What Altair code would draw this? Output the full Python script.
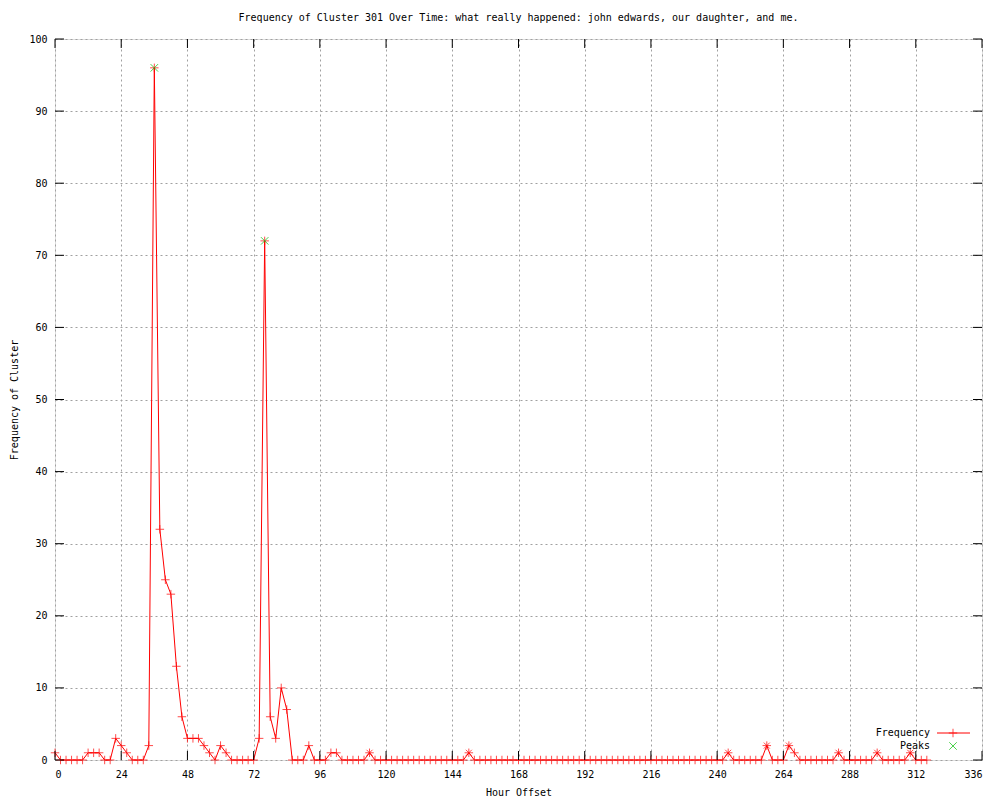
import altair as alt
import pandas as pd

hours = list(range(0, 318, 2))
freq = [
    1, 0, 0, 0, 0, 0, 1, 1, 1, 0,      # 0-18
    0, 3, 2, 1, 0, 0, 0, 2, 96, 32,    # 20-38
    25, 23, 13, 6, 3, 3, 3, 2, 1, 0,   # 40-58
    2, 1, 0, 0, 0, 0, 0, 3, 72, 6,     # 60-78
    3, 10, 7, 0, 0, 0, 2, 0, 0, 0,     # 80-98
    1, 1, 0, 0, 0, 0, 0, 1, 0, 0,      # 100-118
    0, 0, 0, 0, 0, 0, 0, 0, 0, 0,      # 120-138
    0, 0, 0, 0, 0, 1, 0, 0, 0, 0,      # 140-158
    0, 0, 0, 0, 0, 0, 0, 0, 0, 0,      # 160-178
    0, 0, 0, 0, 0, 0, 0, 0, 0, 0,      # 180-198
    0, 0, 0, 0, 0, 0, 0, 0, 0, 0,      # 200-218
    0, 0, 0, 0, 0, 0, 0, 0, 0, 0,      # 220-238
    0, 0, 1, 0, 0, 0, 0, 0, 0, 2,      # 240-258
    0, 0, 0, 2, 1, 0, 0, 0, 0, 0,      # 260-278
    0, 0, 1, 0, 0, 0, 0, 0, 0, 1,      # 280-298
    0, 0, 0, 0, 0, 1, 0, 0, 0,         # 300-316
]

star_hours = [114, 150, 244, 258, 266, 284, 298, 310]
peak_hours = [36, 76]
peak_values = [96, 72]

x_ticks = list(range(0, 337, 24))
y_ticks = list(range(0, 101, 10))

TITLE = "Frequency of Cluster 301 Over Time: what really happened: john edwards, our daughter, and me."
FONT = "DejaVu Sans Mono"
FS = 10
W, H = 927, 721

df = pd.DataFrame({"hour": hours, "freq": freq})
stars = df[df["hour"].isin(star_hours)]
peaks = pd.DataFrame({"hour": peak_hours, "freq": peak_values})
xt = pd.DataFrame({"t": x_ticks})
yt = pd.DataFrame({"t": y_ticks})
one = pd.DataFrame({"a": [0]})

xs = alt.Scale(domain=[0, 336], nice=False, zero=False)
ys = alt.Scale(domain=[0, 100], nice=False)

PLUS = "M-1,0L1,0M0,-1L0,1"
XSYM = "M-1,-1L1,1M-1,1L1,-1"

base = alt.Chart(df)

line = base.mark_line(color="#ff0000", strokeWidth=1).encode(
    x=alt.X("hour:Q", scale=xs, title="Hour Offset",
            axis=alt.Axis(values=x_ticks, grid=True, gridDash=[2, 3], gridColor="#a0a0a0",
                          ticks=False, domain=False, labelPadding=9,
                          titlePadding=8, labelFont=FONT, labelFontSize=FS,
                          titleFont=FONT, titleFontSize=FS, titleFontWeight="normal",
                          labelColor="black", titleColor="black")),
    y=alt.Y("freq:Q", scale=ys, title="Frequency of Cluster",
            axis=alt.Axis(values=y_ticks, grid=True, gridDash=[2, 3], gridColor="#a0a0a0",
                          ticks=False, domain=False, labelPadding=8,
                          titlePadding=9, labelFont=FONT, labelFontSize=FS,
                          titleFont=FONT, titleFontSize=FS, titleFontWeight="normal",
                          labelColor="black", titleColor="black")),
)

pts = base.mark_point(shape=PLUS, size=72, color="#ff0000", strokeWidth=1, filled=False).encode(
    x=alt.X("hour:Q", scale=xs), y=alt.Y("freq:Q", scale=ys))

star_pts = alt.Chart(stars).mark_point(shape=XSYM, size=36, color="#ff0000", strokeWidth=1,
                                       filled=False).encode(
    x=alt.X("hour:Q", scale=xs), y=alt.Y("freq:Q", scale=ys))

peak_pts = alt.Chart(peaks).mark_point(shape=XSYM, size=56, color="#00c000", strokeWidth=1,
                                       filled=False).encode(
    x=alt.X("hour:Q", scale=xs), y=alt.Y("freq:Q", scale=ys))

tick_b = alt.Chart(xt).mark_rule(color="black").encode(
    x=alt.X("t:Q", scale=xs), y=alt.value(H), y2=alt.value(H - 9))
tick_t = alt.Chart(xt).mark_rule(color="black").encode(
    x=alt.X("t:Q", scale=xs), y=alt.value(0), y2=alt.value(9))
tick_l = alt.Chart(yt).mark_rule(color="black").encode(
    y=alt.Y("t:Q", scale=ys), x=alt.value(0), x2=alt.value(9))
tick_r = alt.Chart(yt).mark_rule(color="black").encode(
    y=alt.Y("t:Q", scale=ys), x=alt.value(W), x2=alt.value(W - 9))

title = alt.Chart(pd.DataFrame({"t": [TITLE]})).mark_text(
    font=FONT, fontSize=FS, color="black", align="center", baseline="middle").encode(
    text="t:N", x=alt.value(W / 2), y=alt.value(-21))

leg_txt = alt.Chart(pd.DataFrame({"t": ["Frequency", "Peaks"], "yy": [694, 707]})).mark_text(
    font=FONT, fontSize=FS, color="black", align="right", baseline="middle").encode(
    text="t:N", x=alt.value(875), y=alt.Y("yy:Q", scale=None))
leg_line = alt.Chart(one).mark_rule(color="#ff0000", strokeWidth=1).encode(
    x=alt.value(882), x2=alt.value(915), y=alt.value(694))
leg_plus = alt.Chart(one).mark_point(shape=PLUS, size=72, color="#ff0000", filled=False,
                                     strokeWidth=1).encode(x=alt.value(898), y=alt.value(694))
leg_x = alt.Chart(one).mark_point(shape=XSYM, size=56, color="#00c000", filled=False,
                                  strokeWidth=1).encode(x=alt.value(898), y=alt.value(707))

chart = alt.layer(
    line, pts, star_pts, peak_pts, tick_b, tick_t, tick_l, tick_r,
    title, leg_txt, leg_line, leg_plus, leg_x
).properties(
    width=W, height=H,
    autosize=alt.AutoSizeParams(type="none"),
    padding={"left": 47, "top": 31, "right": 10, "bottom": 38},
).configure_view(stroke="black", strokeWidth=1).configure(background="white")

chart.save("out.html", embed_options={"renderer": "svg", "actions": False})
